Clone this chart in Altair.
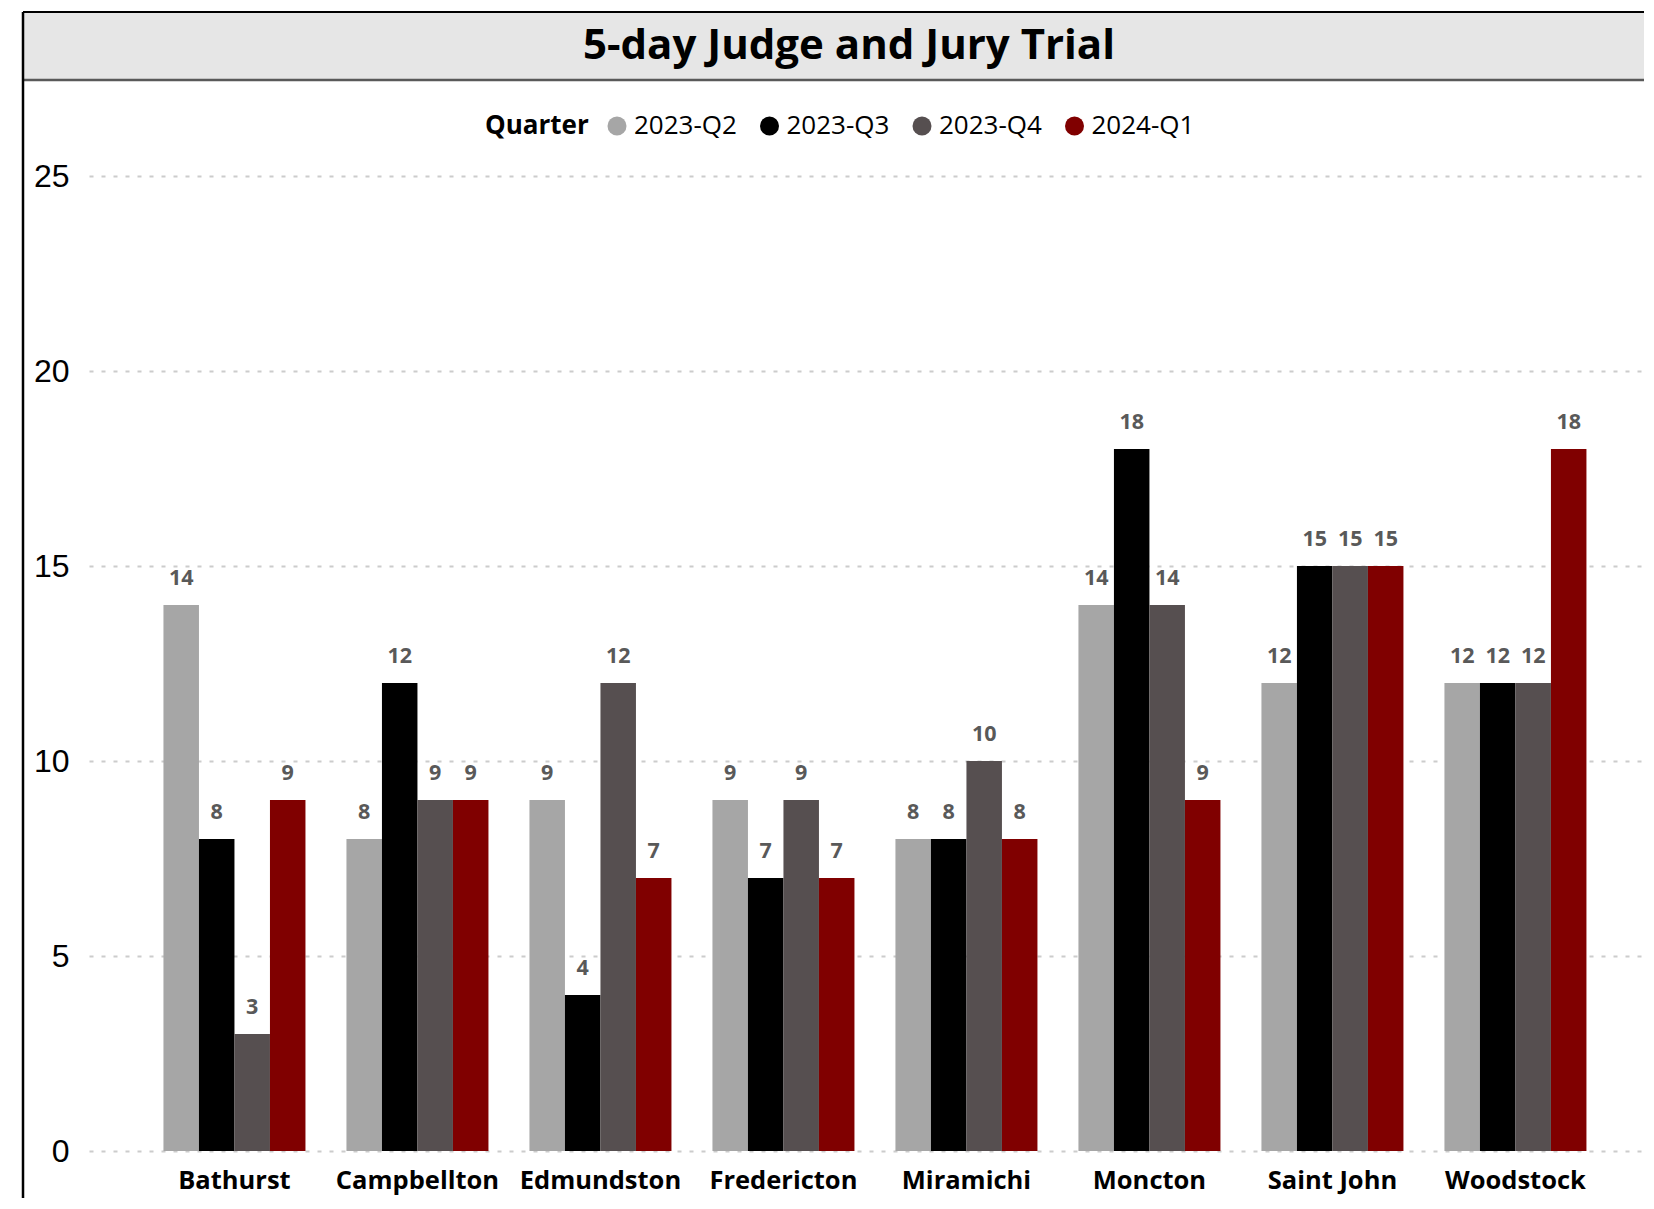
import altair as alt
import pandas as pd

TITLE = "5-day Judge and Jury Trial"
LEGEND_TITLE = "Quarter"
courts = ["Bathurst", "Campbellton", "Edmundston", "Fredericton",
          "Miramichi", "Moncton", "Saint John", "Woodstock"]
quarters = ["2023-Q2", "2023-Q3", "2023-Q4", "2024-Q1"]
colors = ["#a6a6a6", "#000000", "#564f50", "#800000"]

q2023_2 = [14, 8, 9, 9, 8, 14, 12, 12]
q2023_3 = [8, 12, 4, 7, 8, 18, 15, 12]
q2023_4 = [3, 9, 12, 9, 10, 14, 15, 12]
q2024_1 = [9, 9, 7, 7, 8, 9, 15, 18]

series = [q2023_2, q2023_3, q2023_4, q2024_1]
rows = []
for q, vals in zip(quarters, series):
    for c, v in zip(courts, vals):
        rows.append({"Court": c, "Quarter": q, "Value": v})
df = pd.DataFrame(rows)

W, H = 1555, 975

x_axis = alt.Axis(title=None, labelAngle=0, domain=False, ticks=False,
                  labelFont="Open Sans", labelFontWeight="bold",
                  labelFontSize=25.5, labelColor="black", labelPadding=17,
                  labelLimit=400)
y_axis = alt.Axis(title=None, values=[0, 5, 10, 15, 20, 25], domain=False,
                  ticks=False, grid=True, gridColor="#cccccc",
                  gridDash=[4, 8], gridWidth=2,
                  labelFont="Liberation Sans", labelFontSize=32,
                  labelColor="black", labelPadding=20)

x_enc = alt.X(
    "Court:N", sort=courts,
    scale=alt.Scale(paddingInner=0.224, paddingOuter=0.3607, align=0.564),
    axis=x_axis,
)
xoff_enc = alt.XOffset("Quarter:N", sort=quarters,
                       scale=alt.Scale(paddingInner=0, paddingOuter=0))
y_enc = alt.Y(
    "Value:Q",
    scale=alt.Scale(domain=[0, 25], nice=False),
    axis=y_axis,
)

bars = alt.Chart(df).mark_bar().encode(
    x=x_enc,
    xOffset=xoff_enc,
    y=y_enc,
    color=alt.Color(
        "Quarter:N", sort=quarters,
        scale=alt.Scale(domain=quarters, range=colors),
        legend=alt.Legend(
            title=LEGEND_TITLE, orient="none", legendX=396, legendY=-63,
            direction="horizontal", titleOrient="left",
            titleFont="Open Sans", titleFontWeight="bold", titleFontSize=26,
            titleColor="black", titlePadding=15,
            labelFont="Open Sans", labelFontSize=26, labelColor="black",
            labelOffset=4, columnPadding=19.5,
            symbolType="circle", symbolSize=361, symbolStrokeWidth=0,
            padding=0,
        ),
    ),
)

labels = alt.Chart(df).mark_text(
    baseline="alphabetic", dy=-20, font="Open Sans", fontWeight="bold",
    fontSize=21.5, color="#595959",
).encode(
    x=x_enc,
    xOffset=xoff_enc,
    y=y_enc,
    text="Value:Q",
)

one = pd.DataFrame({"title": [TITLE]})

title_bar = alt.Chart(one).mark_rect(color="#e6e6e6").encode(
    x=alt.value(-66), x2=alt.value(W),
    y=alt.value(-164), y2=alt.value(-96),
)
bar_line = alt.Chart(one).mark_rule(color="#595959", strokeWidth=2.5).encode(
    x=alt.value(-66), x2=alt.value(W), y=alt.value(-96),
)
top_line = alt.Chart(one).mark_rule(color="black", strokeWidth=2).encode(
    x=alt.value(-66), x2=alt.value(W), y=alt.value(-164),
)
left_line = alt.Chart(one).mark_rule(color="black", strokeWidth=2.5).encode(
    x=alt.value(-66), y=alt.value(-164), y2=alt.value(H + 60),
)
title_text = alt.Chart(one).mark_text(
    align="center", baseline="alphabetic", font="Open Sans",
    fontWeight="bold", fontSize=42, color="black",
).encode(x=alt.value(760), y=alt.value(-117), text="title:N")

chart = alt.layer(
    title_bar, bar_line, top_line, left_line, title_text, bars, labels
).properties(
    width=W, height=H,
    background="white",
    autosize=alt.AutoSizeParams(type="none"),
    padding={"left": 81, "top": 168, "right": 0, "bottom": 47},
).configure_view(stroke=None).configure_axis(domain=False, ticks=False)

chart.save("out.html", embed_options={"renderer": "svg", "actions": False})
